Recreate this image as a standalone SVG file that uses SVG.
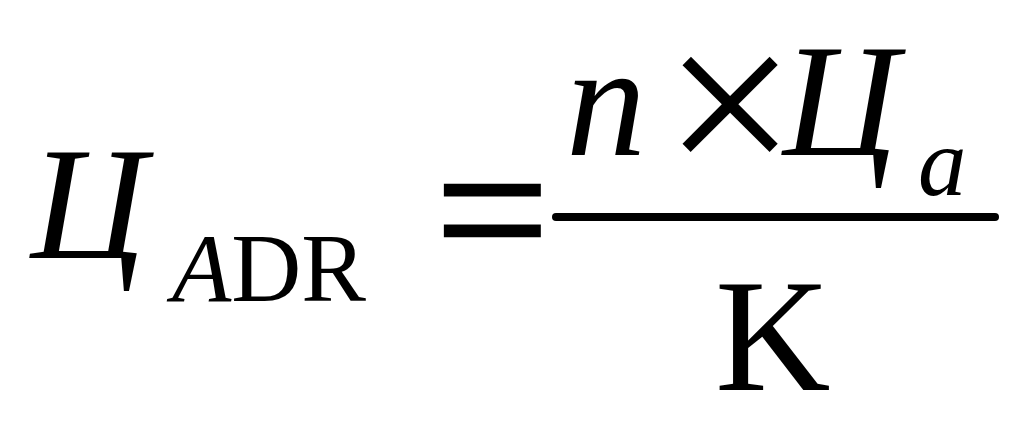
<svg xmlns="http://www.w3.org/2000/svg" width="1024" height="423" viewBox="0 0 1024 423">
<style>
.t{font-family:"Liberation Serif","Times New Roman",serif;fill:#000}
.i{font-style:italic}
</style>
<rect width="1024" height="423" fill="#fff"/>
<g id="lhs">
<text class="t i" x="31" y="258" font-size="160">Ц</text>
<text class="t" x="172" y="301" font-size="97"><tspan font-style="italic">A</tspan>DR</text>
</g>
<g id="eq">
<text class="t" x="435" y="278" font-size="203" stroke="#000" stroke-width="2.5">=</text>
</g>
<g id="num">
<text class="t i" x="566" y="155" font-size="160">n</text>
<text class="t" x="664" y="182" font-size="234">×</text>
<text class="t i" x="783" y="155" font-size="160">Ц</text>
<text class="t i" x="918" y="195" font-size="97">a</text>
</g>
<g id="connectors">
<line x1="556" y1="217" x2="995" y2="217" stroke="#000" stroke-width="8" stroke-linecap="round"/>
</g>
<g id="den">
<text class="t" x="715" y="390" font-size="160">K</text>
</g>
</svg>
